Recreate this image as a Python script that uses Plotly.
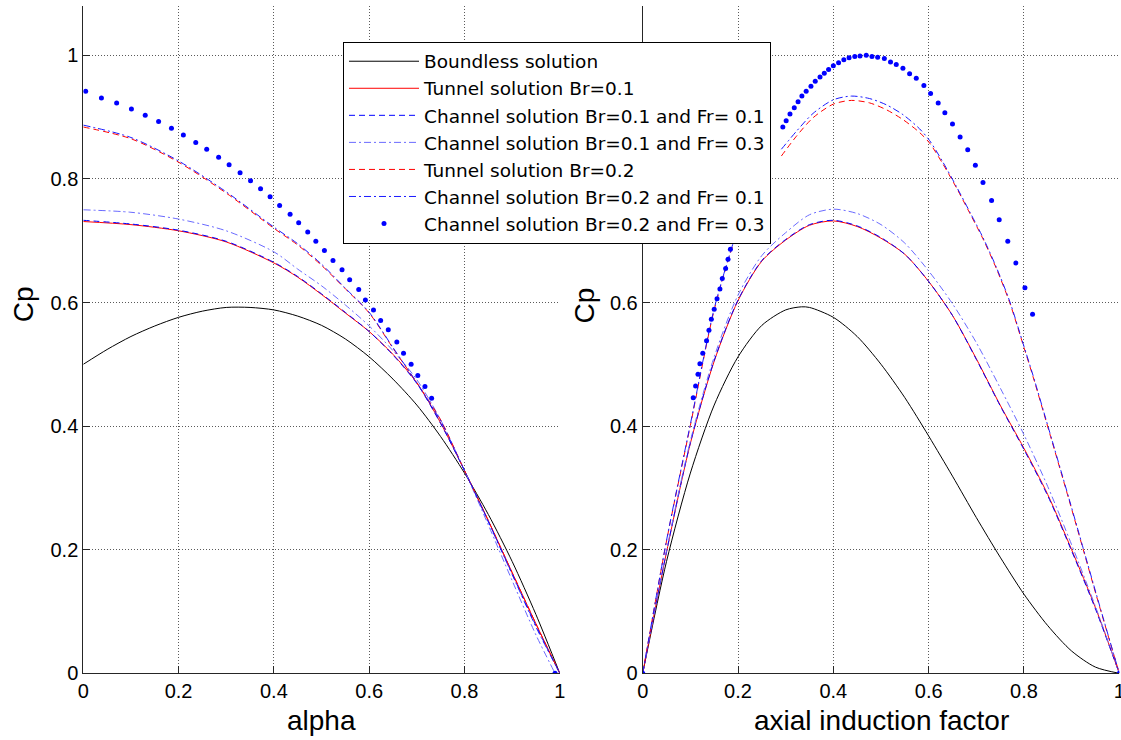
import plotly.graph_objects as go

# ---------------- Left panel: Cp vs alpha ----------------
alpha_bl = [0, 0.05, 0.1, 0.15, 0.2, 0.25, 0.3, 0.35, 0.4, 0.45, 0.5, 0.55, 0.6, 0.65, 0.7, 0.75, 0.8, 0.85, 0.9, 0.95, 1.0]
cp_bl = [0.500, 0.524, 0.545, 0.562, 0.576, 0.586, 0.592, 0.592, 0.588, 0.578, 0.563, 0.541, 0.512, 0.476, 0.434, 0.383, 0.324, 0.257, 0.181, 0.095, 0.0]

alpha_tc = [0, 0.1, 0.2, 0.3, 0.4, 0.45, 0.5, 0.55, 0.6, 0.65, 0.7, 0.75, 0.8, 0.85, 0.9, 0.95, 1.0]
cp_t1 = [0.731, 0.726, 0.716, 0.698, 0.664, 0.641, 0.613, 0.583, 0.553, 0.516, 0.470, 0.405, 0.328, 0.247, 0.163, 0.080, 0.0]
cp_c11 = [0.733, 0.727, 0.717, 0.699, 0.665, 0.642, 0.614, 0.584, 0.553, 0.515, 0.469, 0.404, 0.328, 0.246, 0.161, 0.077, 0.0]
alpha_c13 = [0, 0.1, 0.2, 0.3, 0.4, 0.45, 0.5, 0.55, 0.6, 0.65, 0.7, 0.75, 0.8, 0.85, 0.9, 0.95, 0.99]
cp_c13 = [0.750, 0.746, 0.735, 0.716, 0.682, 0.654, 0.627, 0.596, 0.562, 0.522, 0.475, 0.410, 0.328, 0.240, 0.150, 0.062, 0.0]
cp_t2 = [0.884, 0.865, 0.827, 0.777, 0.720, 0.693, 0.660, 0.622, 0.583, 0.526, 0.470, 0.410, 0.328, 0.247, 0.163, 0.080, 0.0]
cp_c21 = [0.887, 0.867, 0.829, 0.779, 0.722, 0.695, 0.662, 0.623, 0.584, 0.527, 0.470, 0.408, 0.328, 0.245, 0.160, 0.075, 0.0]
alpha_c23 = [0.005, 0.038, 0.070, 0.101, 0.130, 0.158, 0.185, 0.210, 0.236, 0.259, 0.284, 0.306, 0.329,
             0.351, 0.372, 0.392, 0.412, 0.434, 0.452, 0.471, 0.488, 0.506, 0.524, 0.543, 0.559, 0.578,
             0.592, 0.609, 0.624, 0.640, 0.658, 0.672, 0.688, 0.702, 0.717, 0.731, 0.990]
cp_c23 = [0.942, 0.931, 0.923, 0.913, 0.903, 0.893, 0.882, 0.871, 0.859, 0.848, 0.835, 0.823, 0.810,
          0.797, 0.784, 0.771, 0.757, 0.743, 0.729, 0.714, 0.699, 0.684, 0.668, 0.653, 0.637, 0.621,
          0.604, 0.588, 0.571, 0.556, 0.536, 0.518, 0.500, 0.482, 0.464, 0.445, 0.0]

# ---------------- Right panel: Cp vs axial induction factor ----------------
a_bl = [0, 0.05, 0.1, 0.15, 0.2, 0.25, 0.3, 0.333, 0.35, 0.4, 0.45, 0.5, 0.55, 0.6, 0.65, 0.7, 0.75, 0.8, 0.85, 0.9, 0.95, 1.0]
cpa_bl = [0, 0.181, 0.324, 0.434, 0.512, 0.563, 0.588, 0.593, 0.592, 0.576, 0.545, 0.500, 0.446, 0.384, 0.319, 0.252, 0.188, 0.128, 0.077, 0.036, 0.010, 0.0]

a_br1 = [0, 0.05, 0.1, 0.15, 0.2, 0.25, 0.3, 0.35, 0.4, 0.45, 0.5, 0.55, 0.6, 0.65, 0.7, 0.75, 0.8, 0.85, 0.9, 0.95, 1.0]
cpa_t1 = [0, 0.196, 0.372, 0.505, 0.603, 0.667, 0.701, 0.725, 0.732, 0.723, 0.704, 0.678, 0.634, 0.579, 0.509, 0.434, 0.364, 0.289, 0.200, 0.106, 0.0]
cpa_c11 = [0, 0.197, 0.373, 0.506, 0.604, 0.668, 0.702, 0.726, 0.733, 0.724, 0.705, 0.678, 0.634, 0.579, 0.508, 0.433, 0.362, 0.287, 0.198, 0.104, 0.0]
cpa_c13 = [0, 0.199, 0.376, 0.512, 0.612, 0.676, 0.713, 0.742, 0.751, 0.744, 0.726, 0.696, 0.651, 0.598, 0.535, 0.462, 0.386, 0.302, 0.208, 0.108, 0.0]

# Br=0.2 curves: no values between a=0.2 and a=0.29 (gap marked with None)
a_br2 = [0, 0.05, 0.1, 0.15, 0.2, None, 0.291, 0.3225, 0.3575, 0.40, 0.438, 0.476, 0.511, 0.546, 0.581, 0.602,
         0.630, 0.658, 0.686, 0.714, 0.742, 0.770, 0.8, 0.819, 0.854, 0.894, 0.924, 0.954, 1.0]
cpa_t2 = [0, 0.214, 0.401, 0.588, 0.720, None, 0.837, 0.869, 0.899, 0.921, 0.927, 0.923, 0.912, 0.896, 0.875, 0.858,
          0.824, 0.786, 0.745, 0.703, 0.655, 0.600, 0.527, 0.480, 0.388, 0.282, 0.201, 0.120, 0.0]
cpa_c21 = [0, 0.215, 0.403, 0.590, 0.722, None, 0.848, 0.877, 0.906, 0.928, 0.934, 0.930, 0.920, 0.904, 0.881, 0.862,
           0.827, 0.788, 0.747, 0.705, 0.657, 0.602, 0.529, 0.482, 0.390, 0.284, 0.203, 0.122, 0.0]

a_c23 = [0, 0.106, 0.111, 0.116, 0.120, 0.126, 0.134, 0.139, 0.144, 0.150, 0.156, 0.162, 0.167, 0.174, 0.179, 0.184,
         0.294, 0.301, 0.309, 0.318, 0.326, 0.334, 0.343, 0.353, 0.362, 0.372, 0.381, 0.390, 0.400, 0.411,
         0.422, 0.433, 0.445, 0.456, 0.469, 0.481, 0.493, 0.507, 0.520, 0.532, 0.546, 0.560, 0.574, 0.590,
         0.604, 0.620, 0.634, 0.650, 0.666, 0.682, 0.698, 0.714, 0.732, 0.748, 0.766, 0.783, 0.802, 0.818, 1.0]
cpa_c23 = [0, 0.446, 0.465, 0.484, 0.501, 0.518, 0.538, 0.555, 0.573, 0.589, 0.606, 0.622, 0.639, 0.655, 0.670, 0.686,
           0.884, 0.894, 0.905, 0.915, 0.925, 0.934, 0.942, 0.950, 0.958, 0.965, 0.971, 0.977, 0.983, 0.988,
           0.993, 0.996, 0.998, 0.999, 1.000, 0.998, 0.997, 0.995, 0.989, 0.985, 0.979, 0.970, 0.963, 0.951,
           0.938, 0.923, 0.907, 0.889, 0.868, 0.847, 0.822, 0.794, 0.765, 0.734, 0.699, 0.664, 0.624, 0.581, 0.0]

tick_vals = [0, 0.2, 0.4, 0.6, 0.8, 1]
tick_text = ["0", "0.2", "0.4", "0.6", "0.8", "1"]

legend_names = [
    "Boundless solution",
    "Tunnel solution Br=0.1",
    "Channel solution Br=0.1 and Fr= 0.1",
    "Channel solution Br=0.1 and Fr= 0.3",
    "Tunnel solution Br=0.2",
    "Channel solution Br=0.2 and Fr= 0.1",
    "Channel solution Br=0.2 and Fr= 0.3",
]

DASH = "6px,4px"
DASHDOT = "7px,3px,2px,3px"
styles = [
    dict(color="#000000", dash="solid"),
    dict(color="#ff0000", dash="solid"),
    dict(color="#0000ff", dash=DASH),
    dict(color="#6a6aff", dash=DASHDOT),
    dict(color="#ff0000", dash=DASH),
    dict(color="#1a1aff", dash=DASHDOT),
    None,
]

left_series = [
    (alpha_bl, cp_bl), (alpha_tc, cp_t1), (alpha_tc, cp_c11), (alpha_c13, cp_c13),
    (alpha_tc, cp_t2), (alpha_tc, cp_c21), (alpha_c23, cp_c23),
]
right_series = [
    (a_bl, cpa_bl), (a_br1, cpa_t1), (a_br1, cpa_c11), (a_br1, cpa_c13),
    (a_br2, cpa_t2), (a_br2, cpa_c21), (a_c23, cpa_c23),
]

fig = go.Figure()
for panel, series in ((1, left_series), (2, right_series)):
    xa = "x" if panel == 1 else "x2"
    ya = "y" if panel == 1 else "y2"
    for i, (xs, ys) in enumerate(series):
        common = dict(x=xs, y=ys, name=legend_names[i], legendgroup=str(i),
                      showlegend=(panel == 1), xaxis=xa, yaxis=ya, hoverinfo="skip")
        if styles[i] is None:
            fig.add_trace(go.Scatter(mode="markers",
                                     marker=dict(color="#0000ff", size=5, symbol="circle"),
                                     **common))
        else:
            fig.add_trace(go.Scatter(mode="lines", connectgaps=False,
                                     line=dict(color=styles[i]["color"], dash=styles[i]["dash"],
                                               width=1, shape="spline", smoothing=0.8),
                                     **common))

W, H = 1121, 740
Y0, Y1 = 673.3, 6.0
ytop = (Y0 - Y1) / 618.0

axis_common = dict(
    showline=True, linecolor="#262626", linewidth=1, mirror=False,
    ticks="inside", ticklen=7, tickcolor="#262626",
    showgrid=True, gridcolor="#5a5a5a", griddash="1px,2px", gridwidth=1,
    zeroline=False, automargin=False, ticklabeloverflow="allow",
    tickfont=dict(family="Liberation Sans, Arial", size=20, color="#000000"),
    tickvals=tick_vals, ticktext=tick_text,
)

fig.update_layout(
    width=W, height=H,
    margin=dict(l=0, r=0, t=0, b=0, autoexpand=False),
    paper_bgcolor="white", plot_bgcolor="white",
    font=dict(family="Liberation Sans, Arial", color="#000000"),
    xaxis=dict(domain=[83.3 / W, 559.8 / W], range=[0, 1], anchor="y", **axis_common),
    yaxis=dict(domain=[1 - Y0 / H, 1 - Y1 / H], range=[0, ytop], anchor="x", **axis_common),
    xaxis2=dict(domain=[642.7 / W, 1119.3 / W], range=[0, 1], anchor="y2", **axis_common),
    yaxis2=dict(domain=[1 - Y0 / H, 1 - Y1 / H], range=[0, ytop], anchor="x2", **axis_common),
    legend=dict(x=343 / W, y=1 - 41.7 / H, xanchor="left", yanchor="top",
                bgcolor="white", bordercolor="#000000", borderwidth=1,
                font=dict(family="DejaVu Sans", size=18.5, color="#000000"),
                itemwidth=70, tracegroupgap=0),
    showlegend=True,
)

title_font = dict(family="Liberation Sans, Arial", size=28, color="#000000")
fig.add_annotation(text="Cp", x=23.7 / W, y=1 - 304.5 / H, xref="paper", yref="paper",
                   textangle=-90, showarrow=False, font=title_font, xanchor="center", yanchor="middle")
fig.add_annotation(text="Cp", x=584 / W, y=1 - 305.5 / H, xref="paper", yref="paper",
                   textangle=-90, showarrow=False, font=title_font, xanchor="center", yanchor="middle")
fig.add_annotation(text="alpha", x=321.5 / W, y=1 - 720 / H, xref="paper", yref="paper",
                   showarrow=False, font=title_font, xanchor="center", yanchor="middle")
fig.add_annotation(text="axial induction factor", x=881 / W, y=1 - 720 / H, xref="paper", yref="paper",
                   showarrow=False, font=title_font, xanchor="center", yanchor="middle")

# remove the default 8px page margin so the figure sits at the window origin
fig.write_html("out.html", config={"displayModeBar": False},
               post_script="document.body.style.margin='0px';")
